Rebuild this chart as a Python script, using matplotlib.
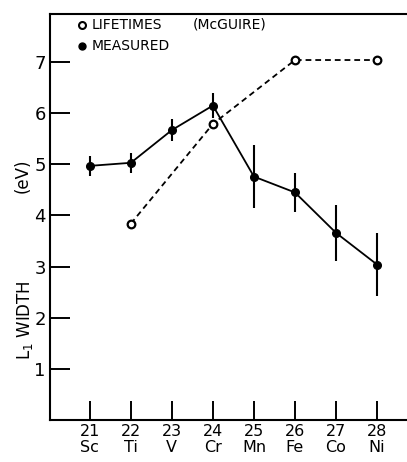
import numpy as np
import matplotlib
matplotlib.use('Agg')
import matplotlib.pyplot as plt

# atomic numbers and element symbols
z_numbers = [21, 22, 23, 24, 25, 26, 27, 28]
elements = ['Sc', 'Ti', 'V', 'Cr', 'Mn', 'Fe', 'Co', 'Ni']

# measured L1 widths (eV) with error bars
measured_z = [21, 22, 23, 24, 25, 26, 27, 28]
measured_width = [4.97, 5.03, 5.67, 6.15, 4.76, 4.45, 3.66, 3.04]
measured_err = [0.2, 0.2, 0.21, 0.24, 0.62, 0.38, 0.55, 0.62]

# widths from lifetimes (McGuire)
lifetime_z = [22, 24, 26, 28]
lifetime_width = [3.84, 5.79, 7.04, 7.04]

plt.rcParams['font.family'] = ['DejaVu Sans']

fig = plt.figure(figsize=(4.07, 4.62), dpi=100)
ax = fig.add_axes([50 / 407, 42 / 462, 1 - 50 / 407, 1 - 14 / 462 - 42 / 462])

ax.plot(lifetime_z, lifetime_width, color='black', linestyle=(0, (3.2, 2.2)),
        linewidth=1.3, marker='o', markersize=5.5, markerfacecolor='white',
        markeredgecolor='black', markeredgewidth=1.6, zorder=2)

ax.errorbar(measured_z, measured_width, yerr=measured_err, color='black',
            linewidth=1.3, elinewidth=1.5, capsize=0, marker='o',
            markersize=5.5, markerfacecolor='black', zorder=3)

ax.set_xlim(20.03, 28.73)
ax.set_ylim(0, 7.94)

ax.set_xticks(z_numbers)
ax.set_xticklabels(['%d\n%s' % (z, e) for z, e in zip(z_numbers, elements)],
                   fontsize=11.5, linespacing=1.05)
ax.set_yticks([1, 2, 3, 4, 5, 6, 7])
ax.set_yticklabels(['1', '2', '3', '4', '5', '6', '7'], fontsize=13)

ax.tick_params(axis='y', direction='in', length=14.5, width=1.4, pad=3)
ax.tick_params(axis='x', direction='in', length=13.5, width=1.4, pad=3)

ax.spines['right'].set_visible(False)
for side in ['left', 'bottom', 'top']:
    ax.spines[side].set_linewidth(1.5)

# legend drawn as text with markers
ax.plot([20.8], [7.73], marker='o', markersize=5, markerfacecolor='white',
        markeredgecolor='black', markeredgewidth=1.5, clip_on=False)
ax.plot([20.8], [7.32], marker='o', markersize=5, color='black', clip_on=False)
ax.text(21.05, 7.73, 'LIFETIMES', fontsize=10, va='center', ha='left')
ax.text(23.5, 7.73, '(McGUIRE)', fontsize=10, va='center', ha='left')
ax.text(21.05, 7.32, 'MEASURED', fontsize=10, va='center', ha='left')

fig.text(23 / 407, 1 - 176 / 462, '(eV)', rotation=90, fontsize=12,
         ha='center', va='center')
fig.text(25 / 407, 1 - 320 / 462, 'L$_1$ WIDTH', rotation=90, fontsize=12,
         ha='center', va='center')

fig.savefig('out.png', dpi=100)
